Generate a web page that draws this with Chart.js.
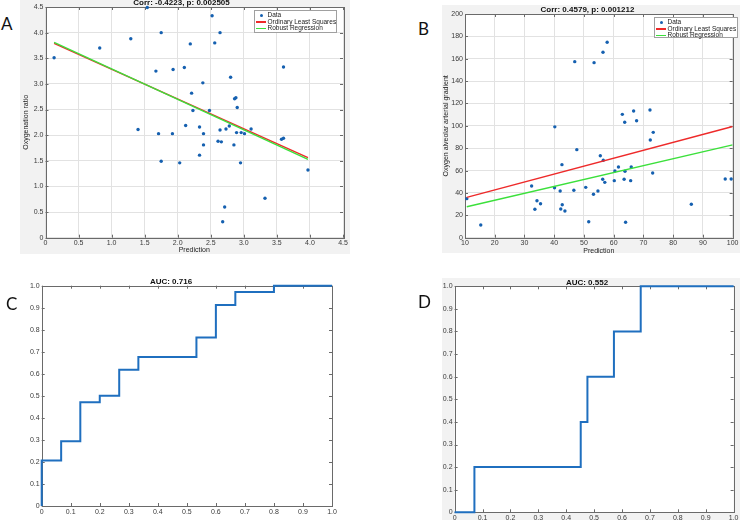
<!DOCTYPE html>
<html>
<head>
<meta charset="utf-8">
<script src="https://cdn.jsdelivr.net/npm/chart.js@4.4.1/dist/chart.umd.min.js"></script>
<style>
    body { margin: 0; background: #fff; }
    #page { position: relative; width: 740px; height: 520px; overflow: hidden; background: #fff; }
    .fig { position: absolute; background: #f2f2f2; }
    canvas { position: absolute; }
    .tag { position: absolute; font: 17px Lato, sans-serif; line-height: 17px; color: #111; }
    .legend { position: absolute; background: #fff; border: 1px solid #a0a0a0; box-sizing: border-box;
              font: 6.5px 'Liberation Sans', Arial, sans-serif; color: #222; padding-top: 1px; }
    .legend div { position: relative; height: 6.7px; line-height: 6.7px; padding-left: 12.5px; white-space: nowrap; }
    .legend .sw { position: absolute; left: 1px; top: 2.6px; width: 10px; height: 1.5px; }
    .legend .dot { position: absolute; left: 5px; top: 2px; width: 3px; height: 3px; border-radius: 50%; background: #1560b0; }
</style>
</head>
<body>
<div id="page">
    <div class="fig" style="left:20px;top:0;width:330px;height:254px"></div>
    <div class="fig" style="left:442px;top:5px;width:298px;height:248px"></div>
    <div class="fig" style="left:442px;top:278px;width:298px;height:242px"></div>

    <canvas id="chartA" width="330" height="255" style="left:20px;top:-1px"></canvas>
    <canvas id="chartB" width="298" height="250" style="left:442px;top:5px"></canvas>
    <canvas id="chartC" width="330" height="244" style="left:10px;top:276px"></canvas>
    <canvas id="chartD" width="304" height="244" style="left:436px;top:276px"></canvas>

    <div class="tag" style="left:1px;top:15px">A</div>
    <div class="tag" style="left:418px;top:20px">B</div>
    <div class="tag" style="left:6px;top:295px">C</div>
    <div class="tag" style="left:418px;top:293px">D</div>

    <div class="legend" style="left:254px;top:10px;width:83px;height:23px">
        <div><span class="dot"></span>Data</div>
        <div><span class="sw" style="background:#ee2a2a"></span>Ordinary Least Squares</div>
        <div><span class="sw" style="background:#3be03b"></span>Robust Regression</div>
    </div>
    <div class="legend" style="left:654px;top:17px;width:84px;height:21px">
        <div><span class="dot"></span>Data</div>
        <div><span class="sw" style="background:#ee2a2a"></span>Ordinary Least Squares</div>
        <div><span class="sw" style="background:#3be03b"></span>Robust Regression</div>
    </div>
</div>
<script>
// panel A: prediction vs oxygenation ratio
const predA = [0.13, 0.82, 1.29, 1.54, 1.75, 1.67, 1.93, 1.40, 2.52, 2.64, 2.19, 2.56, 2.10, 3.60, 2.38, 2.80,
    2.21, 2.88, 2.86, 2.90, 2.23, 2.48, 2.12, 2.33, 2.64, 2.73, 2.78, 3.11, 1.92, 2.39, 2.89, 2.96,
    3.01, 2.61, 2.66, 2.39, 2.85, 2.33, 2.03, 2.95, 3.57, 3.60, 3.97, 3.32, 2.71, 2.68, 1.71, 1.75];
const ratioA = [3.51, 3.70, 3.88, 4.49, 4.00, 3.25, 3.28, 2.11, 4.33, 4.00, 3.78, 3.80, 3.32, 3.33, 3.02, 3.13,
    2.82, 2.73, 2.71, 2.54, 2.48, 2.48, 2.19, 2.16, 2.10, 2.12, 2.18, 2.12, 2.03, 2.03, 2.05, 2.05,
    2.03, 1.88, 1.87, 1.81, 1.81, 1.61, 1.46, 1.46, 1.92, 1.94, 1.32, 0.77, 0.60, 0.31, 2.03, 1.49];
const fitXA = [0.13, 3.97];
const olsA = [3.79, 1.56];
const robustA = [3.81, 1.53];

// panel B: prediction vs alveolar-arterial gradient
const predB = [10.6, 15.3, 32.4, 34.2, 35.4, 33.5, 40.1, 40.2, 57.8, 56.4, 46.9, 53.4, 62.9, 66.7, 67.7, 72.2,
    63.7, 73.3, 72.3, 47.6, 55.5, 56.5, 42.6, 61.6, 65.9, 60.4, 63.8, 73.1, 56.3, 57.0, 60.2, 63.5,
    65.7, 50.6, 42.0, 46.6, 54.7, 53.2, 42.7, 42.2, 43.6, 86.1, 51.6, 64.0, 97.5, 99.5];
const gradB = [34.9, 11.4, 46.2, 33.1, 30.4, 25.4, 44.7, 99.1, 174.7, 165.8, 157.4, 156.5, 110.3, 113.3, 104.6, 114.2,
    103.2, 94.2, 87.3, 78.7, 73.3, 69.2, 65.3, 63.2, 63.2, 59.6, 59.4, 57.8, 52.2, 49.5, 51.0, 52.2,
    51.0, 45.0, 41.8, 42.4, 41.8, 38.8, 29.5, 25.7, 23.9, 29.9, 14.3, 13.8, 52.5, 52.5];
const fitXB = [10.6, 100];
const olsB = [36.1, 99.4];
const robustB = [27.7, 83.0];

// ROC curves
const fprC = [0, 0, 0.067, 0.067, 0.133, 0.133, 0.2, 0.2, 0.267, 0.267, 0.333, 0.333, 0.533, 0.533, 0.6, 0.6, 0.667, 0.667, 0.8, 0.8, 1];
const tprC = [0, 0.206, 0.206, 0.294, 0.294, 0.471, 0.471, 0.5, 0.5, 0.618, 0.618, 0.676, 0.676, 0.765, 0.765, 0.912, 0.912, 0.971, 0.971, 1, 1];
const fprD = [0, 0.071, 0.071, 0.452, 0.452, 0.476, 0.476, 0.571, 0.571, 0.667, 0.667, 1];
const tprD = [0, 0, 0.2, 0.2, 0.4, 0.4, 0.6, 0.6, 0.8, 0.8, 1, 1];

const FONT = "'Liberation Sans', Arial, sans-serif";
const BLUE = '#1560b0';
const RED = '#ee2a2a';
const GREEN = '#3be03b';

function pts(xs, ys) {
    return xs.map((x, i) => ({ x: x, y: ys[i] }));
}

// white axes box, matlab style inner ticks
const boxAxes = {
    id: 'boxAxes',
    beforeDraw(chart) {
        const a = chart.chartArea;
        chart.ctx.save();
        chart.ctx.fillStyle = '#fff';
        chart.ctx.fillRect(a.left, a.top, a.width, a.height);
        chart.ctx.restore();
    },
    beforeDatasetsDraw(chart) {
        const a = chart.chartArea;
        const ctx = chart.ctx;
        const xs = chart.scales.x;
        const ys = chart.scales.y;
        ctx.save();
        ctx.strokeStyle = '#6a6a6a';
        ctx.lineWidth = 1;
        ctx.beginPath();
        xs.ticks.forEach((t, i) => {
            const p = Math.round(xs.getPixelForTick(i)) + 0.5;
            ctx.moveTo(p, a.bottom); ctx.lineTo(p, a.bottom - 3);
            ctx.moveTo(p, a.top); ctx.lineTo(p, a.top + 3);
        });
        ys.ticks.forEach((t, i) => {
            const p = Math.round(ys.getPixelForTick(i)) + 0.5;
            ctx.moveTo(a.left, p); ctx.lineTo(a.left + 3, p);
            ctx.moveTo(a.right, p); ctx.lineTo(a.right - 3, p);
        });
        ctx.stroke();
        ctx.strokeRect(Math.round(a.left) + 0.5, Math.round(a.top) + 0.5, Math.round(a.width), Math.round(a.height));
        ctx.restore();
    }
};

function axis(range, grid, label, size, horizontal, titlePad) {
    return {
        type: 'linear',
        min: range[0],
        max: range[1],
        afterFit: (s) => {
            if (horizontal) s.height = size; else s.width = size;
        },
        ticks: {
            stepSize: range[2], autoSkip: false, maxRotation: 0,
            padding: horizontal ? 1.5 : 2, color: '#3a3a3a',
            font: { family: FONT, size: 7 },
        },
        grid: { display: grid, color: '#e2e2e2', drawTicks: false },
        border: { display: false },
        title: {
            display: !!label, text: label, color: '#222',
            padding: { top: titlePad || 0, bottom: 0 },
            font: { family: FONT, size: 7, lineHeight: 1.2 },
        },
    };
}

function makeChart(id, cfg) {
    return new Chart(document.getElementById(id), {
        type: 'scatter',
        data: { datasets: cfg.datasets },
        options: {
            responsive: false,
            animation: false,
            devicePixelRatio: 1,
            layout: { padding: { left: 0, top: 0, right: cfg.padRight, bottom: 0 } },
            plugins: {
                legend: { display: false },
                tooltip: { enabled: false },
                title: {
                    display: true, text: cfg.title, color: '#111',
                    font: { family: FONT, size: 8, weight: 'bold', lineHeight: 1 },
                    padding: { top: cfg.titleTop, bottom: 0 },
                },
            },
            scales: { x: cfg.x, y: cfg.y },
        },
        plugins: [boxAxes],
    });
}

function regressionSets(px, py, fx, ols, rob) {
    return [
        { label: 'Data', data: pts(px, py), pointRadius: 1.7, pointBorderWidth: 0, backgroundColor: BLUE, order: 2, clip: false },
        { label: 'Ordinary Least Squares', data: pts(fx, ols), showLine: true, borderColor: RED, borderWidth: 1.4, pointRadius: 0, order: 1 },
        { label: 'Robust Regression', data: pts(fx, rob), showLine: true, borderColor: GREEN, borderWidth: 1.4, pointRadius: 0, order: 0 },
    ];
}

function rocSet(fpr, tpr) {
    return [{ data: pts(fpr, tpr), showLine: true, borderColor: '#1f6fbf', borderWidth: 2, pointRadius: 0, clip: false }];
}

makeChart('chartA', {
    title: 'Corr: -0.4223, p: 0.002505',
    titleTop: 0,
    padRight: 7,
    datasets: regressionSets(predA, ratioA, fitXA, olsA, robustA),
    x: axis([0, 4.5, 0.5], true, 'Prediction', 16.3, true),
    y: axis([0, 4.5, 0.5], true, 'Oxygenation ratio', 25.5, false, 2),
});

makeChart('chartB', {
    title: 'Corr: 0.4579, p: 0.001212',
    titleTop: 1,
    padRight: 7,
    datasets: regressionSets(predB, gradB, fitXB, olsB, robustB),
    x: axis([10, 100, 10], true, 'Prediction', 17.3, true),
    y: axis([0, 200, 20], true, 'Oxygen alveolar arterial gradient', 23, false),
});

makeChart('chartC', {
    title: 'AUC: 0.716',
    titleTop: 1.7,
    padRight: 8,
    datasets: rocSet(fprC, tprC),
    x: axis([0, 1, 0.1], false, '', 14, true),
    y: axis([0, 1, 0.1], false, '', 31.7, false),
});

makeChart('chartD', {
    title: 'AUC: 0.552',
    titleTop: 2.3,
    padRight: 2,
    datasets: rocSet(fprD, tprD),
    x: axis([0, 1, 0.1], false, '', 7.7, true),
    y: axis([0, 1, 0.1], false, '', 18.6, false),
});
</script>
</body>
</html>
